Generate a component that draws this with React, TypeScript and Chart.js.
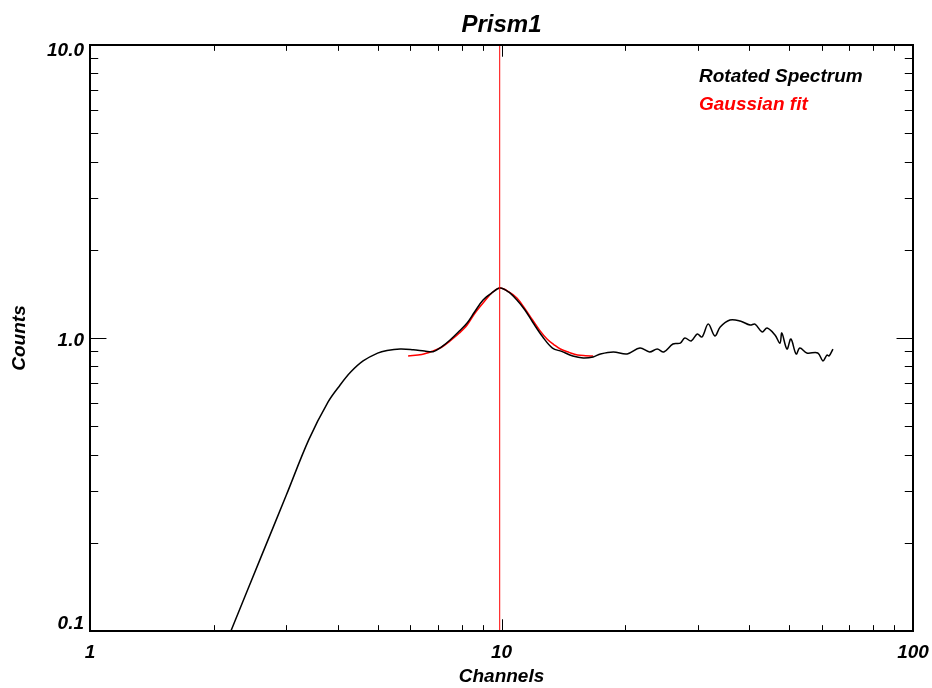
import React, { useEffect, useRef } from "react";
import { Chart, registerables } from "chart.js";

Chart.register(...registerables);

const chartTitle = "Prism1";
const xAxisTitle = "Channels";
const yAxisTitle = "Counts";
const seriesNames = ["Rotated Spectrum", "Gaussian fit"];

const xMajorTicks = [1, 10, 100];
const xTickLabels = ["1", "10", "100"];
const xMinorTicks = [2, 3, 4, 5, 6, 7, 8, 9, 20, 30, 40, 50, 60, 70, 80, 90];
const yMajorTicks = [0.1, 1, 10];
const yTickLabels = ["0.1", "1.0", "10.0"];
const yMinorTicks = [0.2, 0.3, 0.4, 0.5, 0.6, 0.7, 0.8, 0.9, 2, 3, 4, 5, 6, 7, 8, 9];

const spectrumX = [
  2.2, 2.6, 3.0, 3.4, 3.79, 4.05, 4.3, 4.61, 5.0, 5.27, 5.67, 6.1, 6.5, 6.82, 7.15, 7.5, 7.9,
  8.25, 8.6, 9.02, 9.5, 9.92, 10.4, 10.9, 11.4, 11.9, 12.6, 13.3, 14.0, 14.9, 15.8, 16.7, 17.4,
  18.7, 20.2, 21.7, 22.9, 23.9, 24.8, 26.1, 27.2, 27.9, 28.9, 29.9, 30.7, 31.8, 33.0, 34.0,
  35.9, 38.0, 40.2, 41.3, 43.0, 44.2, 46.2, 47.5, 48.0, 49.4, 50.5, 52.0, 53.1, 55.2, 58.7,
  60.4, 61.8, 62.5, 63.9,
];
const spectrumY = [
  0.1, 0.178, 0.291, 0.449, 0.605, 0.69, 0.765, 0.835, 0.888, 0.906, 0.917, 0.912, 0.903, 0.898,
  0.932, 0.984, 1.056, 1.125, 1.227, 1.348, 1.43, 1.481, 1.436, 1.348, 1.246, 1.134, 1.008,
  0.924, 0.9, 0.868, 0.855, 0.862, 0.882, 0.896, 0.882, 0.924, 0.896, 0.917, 0.896, 0.954,
  0.96, 1.0, 0.977, 1.032, 1.008, 1.116, 1.016, 1.09, 1.152, 1.143, 1.107, 1.116, 1.048,
  1.082, 1.024, 0.96, 1.04, 0.917, 0.992, 0.882, 0.924, 0.889, 0.889, 0.835, 0.875, 0.868,
  0.917,
];

const fitX = [
  5.93, 6.4, 6.82, 7.15, 7.5, 7.9, 8.25, 8.6, 9.02, 9.5, 9.92, 10.4, 10.9, 11.4, 11.9, 12.4,
  12.9, 13.4, 13.9, 14.6, 15.3, 16.0, 16.7,
];
const fitY = [
  0.868, 0.878, 0.903, 0.93, 0.977, 1.04, 1.108, 1.21, 1.316, 1.43, 1.48, 1.44, 1.37, 1.26,
  1.152, 1.06, 0.992, 0.95, 0.917, 0.893, 0.875, 0.87, 0.868,
];

const centerLineX = [9.9, 9.9];
const centerLineY = [0.1, 10];

const FONT = "'Liberation Sans', Arial, sans-serif";

const decorPlugin = {
  id: "idlDecor",
  afterDatasetsDraw(chart: any) {
    const { ctx, chartArea, scales } = chart;
    const { left, right, top, bottom } = chartArea;
    const xs = scales.x;
    const ys = scales.y;
    const w = right - left;
    const h = bottom - top;
    const xMaj = h * 0.02;
    const yMaj = w * 0.02;
    ctx.save();
    ctx.strokeStyle = "#000";
    ctx.lineWidth = 1;
    ctx.beginPath();
    const xTick = (v: number, len: number) => {
      const px = Math.round(xs.getPixelForValue(v)) + 0.5;
      ctx.moveTo(px, bottom);
      ctx.lineTo(px, bottom - len);
      ctx.moveTo(px, top);
      ctx.lineTo(px, top + len);
    };
    const yTick = (v: number, len: number) => {
      const py = Math.round(ys.getPixelForValue(v)) + 0.5;
      ctx.moveTo(left, py);
      ctx.lineTo(left + len, py);
      ctx.moveTo(right, py);
      ctx.lineTo(right - len, py);
    };
    xMajorTicks.forEach((v) => xTick(v, xMaj));
    xMinorTicks.forEach((v) => xTick(v, xMaj / 2));
    yMajorTicks.forEach((v) => yTick(v, yMaj));
    yMinorTicks.forEach((v) => yTick(v, yMaj / 2));
    ctx.stroke();

    ctx.lineWidth = 2;
    ctx.strokeRect(left, top, w, h);

    ctx.fillStyle = "#000";
    ctx.font = `italic bold 19px ${FONT}`;
    ctx.textAlign = "center";
    ctx.textBaseline = "middle";
    xMajorTicks.forEach((v, i) => {
      ctx.fillText(xTickLabels[i], xs.getPixelForValue(v), bottom + 22);
    });
    ctx.textAlign = "right";
    yMajorTicks.forEach((v, i) => {
      let py = ys.getPixelForValue(v) + 3;
      py = Math.max(top + 6, Math.min(bottom - 7, py));
      ctx.fillText(yTickLabels[i], left - 6, py);
    });

    ctx.textAlign = "center";
    ctx.fillText(xAxisTitle, (left + right) / 2, bottom + 46);
    ctx.save();
    ctx.translate(20, (top + bottom) / 2);
    ctx.rotate(-Math.PI / 2);
    ctx.fillText(yAxisTitle, 0, 0);
    ctx.restore();

    ctx.font = `italic bold 24px ${FONT}`;
    ctx.fillText(chartTitle, (left + right) / 2, 25);

    ctx.font = `italic bold 19px ${FONT}`;
    ctx.textAlign = "left";
    ctx.textBaseline = "alphabetic";
    ctx.fillStyle = "#000";
    ctx.fillText(seriesNames[0], right - 214, 82);
    ctx.fillStyle = "#ff0000";
    ctx.fillText(seriesNames[1], right - 214, 110);
    ctx.restore();
  },
};

export default function App() {
  const ref = useRef<HTMLCanvasElement>(null);
  useEffect(() => {
    if (!ref.current) return;
    const toPts = (xs: number[], ys: number[]) => xs.map((x, i) => ({ x, y: ys[i] }));
    const chart = new Chart(ref.current, {
      type: "scatter",
      data: {
        datasets: [
          {
            label: "center",
            data: toPts(centerLineX, centerLineY),
            showLine: true,
            borderColor: "#ff0000",
            borderWidth: 1,
            pointRadius: 0,
            tension: 0,
          },
          {
            label: seriesNames[0],
            data: toPts(spectrumX, spectrumY),
            showLine: true,
            borderColor: "#000000",
            borderWidth: 1.5,
            pointRadius: 0,
            tension: 0.35,
          },
          {
            label: seriesNames[1],
            data: toPts(fitX, fitY),
            showLine: true,
            borderColor: "#ff0000",
            borderWidth: 1.5,
            pointRadius: 0,
            tension: 0.35,
          },
        ],
      } as any,
      options: {
        responsive: false,
        animation: false,
        devicePixelRatio: 1,
        layout: { padding: { left: 90, right: 19, top: 45, bottom: 57 } },
        plugins: { legend: { display: false }, title: { display: false }, tooltip: { enabled: false } },
        scales: {
          x: { type: "logarithmic", min: 1, max: 100, display: false },
          y: { type: "logarithmic", min: 0.1, max: 10, display: false },
        },
      } as any,
      plugins: [decorPlugin],
    });
    return () => chart.destroy();
  }, []);
  return (
    <div style={{ position: "fixed", left: 0, top: 0, width: 932, height: 688, background: "#fff" }}>
      <canvas ref={ref} width={932} height={688} />
    </div>
  );
}
